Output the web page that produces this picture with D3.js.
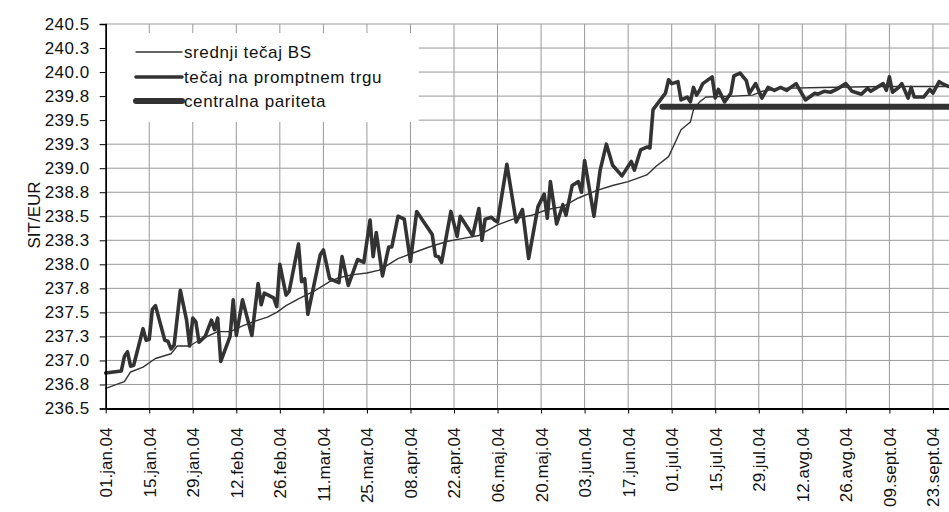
<!DOCTYPE html>
<html>
<head>
<meta charset="utf-8">
<script src="https://cdn.jsdelivr.net/npm/d3@7"></script>
<style>
  body { margin: 0; background: #fff; }
  svg { display: block; font-family: "Liberation Sans", Arial, sans-serif; }
  .grid line { stroke: #999; stroke-width: 1; }
  .axis path, .axis line { stroke: #000; }
  .axis text { fill: #111; font-size: 17px; }
</style>
</head>
<body>
<div id="chart"></div>
<script>
(function(){
  'use strict';

  // data (days counted from 01.jan.04)
  var spotDays = [0, 5, 6, 7, 8, 9, 12, 13, 14, 15, 16, 19, 20, 21, 22, 24, 26, 27, 28, 29,
    30, 32, 34, 35, 36, 37, 40, 41, 42, 44, 47, 49, 50, 51, 54, 55, 56, 58, 59, 62,
    63, 64, 65, 69, 70, 72, 75, 76, 78, 81, 83, 85, 86, 87, 89, 91, 92, 94, 96, 98,
    100, 105, 106, 107, 108, 111, 113, 114, 118, 120, 121, 122, 124, 125, 126, 129, 132, 134, 136, 139,
    141, 142, 143, 145, 147, 148, 150, 152, 153, 154, 157, 159, 161, 163, 166, 169, 170, 172, 174, 175,
    176, 180, 181, 182, 184, 185, 187, 188, 189, 190, 191, 192, 195, 196, 197, 199, 201, 202, 204, 206,
    207, 209, 211, 213, 215, 217, 219, 222, 225, 228, 229, 231, 233, 235, 238, 240, 243, 245, 246, 250,
    251, 252, 253, 255, 256, 258, 259, 260, 263, 265, 266, 268, 269, 271, 273];
  var spotRate = [236.87, 236.89, 237.04, 237.09, 236.94, 236.95, 237.33, 237.21, 237.22, 237.53, 237.57, 237.21, 237.20, 237.12, 237.16, 237.73, 237.42, 237.15, 237.44, 237.40,
    237.19, 237.25, 237.42, 237.32, 237.44, 236.99, 237.25, 237.63, 237.26, 237.63, 237.26, 237.80, 237.58, 237.70, 237.65, 237.56, 238.00, 237.68, 237.72, 238.21,
    237.82, 237.85, 237.48, 238.10, 238.15, 237.85, 237.81, 238.08, 237.78, 238.05, 238.02, 238.46, 238.08, 238.33, 237.88, 238.18, 238.18, 238.50, 238.47, 238.03,
    238.55, 238.31, 238.09, 238.08, 238.02, 238.55, 238.29, 238.50, 238.30, 238.58, 238.25, 238.47, 238.49, 238.46, 238.44, 239.04, 238.44, 238.57, 238.06, 238.60,
    238.73, 238.48, 238.86, 238.42, 238.62, 238.51, 238.82, 238.86, 238.75, 239.08, 238.50, 238.98, 239.25, 239.03, 238.92, 239.07, 238.98, 239.19, 239.22, 239.21,
    239.61, 239.78, 239.92, 239.88, 239.90, 239.71, 239.74, 239.69, 239.84, 239.76, 239.81, 239.88, 239.95, 239.73, 239.82, 239.69, 239.78, 239.96, 239.99, 239.91,
    239.78, 239.88, 239.73, 239.84, 239.81, 239.84, 239.81, 239.88, 239.71, 239.78, 239.77, 239.80, 239.79, 239.82, 239.88, 239.80, 239.77, 239.83, 239.80, 239.88,
    239.81, 239.95, 239.79, 239.84, 239.88, 239.73, 239.84, 239.74, 239.74, 239.82, 239.78, 239.90, 239.88, 239.85, 239.85];

  var bsDays = [0, 6, 8, 12, 16, 21, 23, 27, 30, 36, 40, 44, 49, 52, 55, 58, 62, 67, 72, 75,
    79, 84, 88, 94, 99, 104, 110, 115, 120, 126, 131, 137, 142, 147, 152, 158, 163, 168, 174, 177,
    181, 183, 185, 188, 189, 191, 193, 202, 208, 211, 217, 230, 250, 273];
  var bsRate = [236.71, 236.78, 236.88, 236.93, 237.02, 237.07, 237.15, 237.15, 237.21, 237.30, 237.30, 237.36, 237.42, 237.45, 237.50, 237.57, 237.64, 237.72, 237.82, 237.86,
    237.89, 237.91, 237.94, 238.06, 238.12, 238.18, 238.24, 238.27, 238.30, 238.41, 238.47, 238.51, 238.57, 238.60, 238.69, 238.77, 238.82, 238.86, 238.93, 239.02,
    239.12, 239.26, 239.40, 239.48, 239.61, 239.69, 239.74, 239.75, 239.76, 239.80, 239.83, 239.84, 239.85, 239.85];

  var parityDays = [179, 273];
  var parityRate = [239.64, 239.64];

  var yTicks = [236.5, 236.75, 237, 237.25, 237.5, 237.75, 238, 238.25, 238.5,
    238.75, 239, 239.25, 239.5, 239.75, 240, 240.25, 240.5];
  var xTickLabels = ['01.jan.04', '15.jan.04', '29.jan.04', '12.feb.04', '26.feb.04',
    '11.mar.04', '25.mar.04', '08.apr.04', '22.apr.04', '06.maj.04', '20.maj.04',
    '03.jun.04', '17.jun.04', '01.jul.04', '15.jul.04', '29.jul.04', '12.avg.04',
    '26.avg.04', '09.sept.04', '23.sept.04'];
  var seriesNames = ['srednji tečaj BS', 'tečaj na promptnem trgu', 'centralna pariteta'];

  var W = 949, H = 512;
  var left = 105.7, top = 24, bottom = 408.5, right = 954.7;
  var day0 = new Date(2004, 0, 1);

  function toDate(d) { return d3.timeDay.offset(day0, d); }

  var svg = d3.select('#chart').append('svg')
    .attr('width', W)
    .attr('height', H);

  var x = d3.scaleTime()
    .domain([day0, toDate(273)])
    .range([left, right]);

  var y = d3.scaleLinear()
    .domain([236.5, 240.5])
    .range([bottom, top]);

  var xTickDates = xTickLabels.map(function(l, i) { return toDate(i * 14); });

  // grid
  var grid = svg.append('g').attr('class', 'grid');
  grid.selectAll('.hg')
    .data(yTicks)
    .enter().append('line')
    .attr('x1', left).attr('x2', right)
    .attr('y1', function(d) { return y(d); })
    .attr('y2', function(d) { return y(d); });
  grid.selectAll('.vg')
    .data(xTickDates)
    .enter().append('line')
    .attr('y1', top).attr('y2', bottom)
    .attr('x1', function(d) { return x(d); })
    .attr('x2', function(d) { return x(d); });

  // legend box (covers grid)
  var lg = svg.append('g');
  lg.append('rect')
    .attr('x', left + 1).attr('y', 33)
    .attr('width', 312).attr('height', 89)
    .attr('fill', '#fff');

  // series
  function mkLine(days, vals) {
    return days.map(function(d, i) { return {date: toDate(d), v: vals[i]}; });
  }
  var line = d3.line()
    .x(function(d) { return x(d.date); })
    .y(function(d) { return y(d.v); });

  var series = [
    {data: mkLine(bsDays, bsRate), w: 1.4},
    {data: mkLine(spotDays, spotRate), w: 3.6},
    {data: mkLine(parityDays, parityRate), w: 6}
  ];

  svg.selectAll('.series')
    .data(series)
    .enter().append('path')
    .attr('class', 'series')
    .attr('d', function(d) { return line(d.data); })
    .attr('fill', 'none')
    .attr('stroke', '#333')
    .attr('stroke-width', function(d) { return d.w; })
    .attr('stroke-linejoin', 'round')
    .attr('stroke-linecap', 'round');

  // legend entries
  var legY = [52, 77, 101];
  var items = lg.selectAll('.item')
    .data(series)
    .enter().append('g')
    .attr('transform', function(d, i) { return 'translate(0,' + legY[i] + ')'; });
  items.append('line')
    .attr('x1', 136).attr('x2', 182)
    .attr('stroke', '#333')
    .attr('stroke-linecap', 'round')
    .attr('stroke-width', function(d) { return d.w; });
  items.append('text')
    .attr('x', 184).attr('dy', '0.35em')
    .style('font-size', '17px')
    .style('letter-spacing', '0.6px')
    .attr('fill', '#111')
    .text(function(d, i) { return seriesNames[i]; });

  // axes
  var yAxis = d3.axisLeft(y)
    .tickValues(yTicks)
    .tickSize(6)
    .tickPadding(10)
    .tickFormat(d3.format('.1f'));
  var yg = svg.append('g')
    .attr('class', 'axis')
    .attr('transform', 'translate(' + left + ',0)')
    .call(yAxis);
  yg.select('.domain').attr('stroke-width', 1.6);
  yg.selectAll('text').style('letter-spacing', '0.5px');

  var xAxis = d3.axisBottom(x)
    .tickValues(xTickDates)
    .tickSize(5)
    .tickSizeOuter(0)
    .tickFormat(function(d, i) { return xTickLabels[i]; });
  var xg = svg.append('g')
    .attr('class', 'axis')
    .attr('transform', 'translate(0,' + bottom + ')')
    .call(xAxis);
  xg.select('.domain').attr('stroke-width', 1.8);
  xg.selectAll('text')
    .attr('transform', 'rotate(-90)')
    .attr('x', -19)
    .attr('y', 0)
    .attr('dy', '0.35em')
    .style('text-anchor', 'end');

  svg.append('text')
    .attr('transform', 'translate(40,215) rotate(-90)')
    .attr('text-anchor', 'middle')
    .style('font-size', '17px')
    .attr('fill', '#111')
    .text('SIT/EUR');

}());
</script>
</body>
</html>
